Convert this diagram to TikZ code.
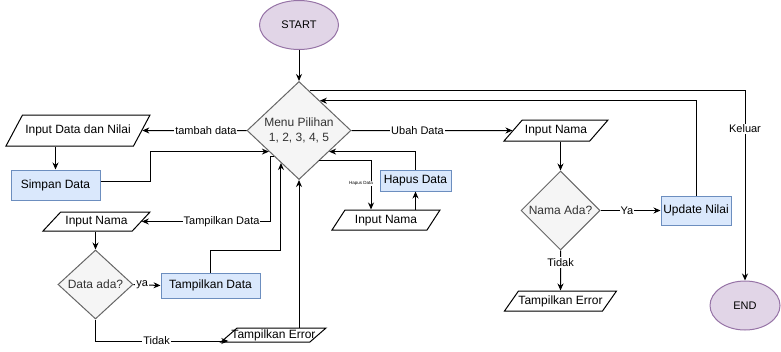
\documentclass[tikz,border=0pt]{standalone}
\usepackage{fontspec}
\setmainfont{Liberation Sans}
\usetikzlibrary{shapes.geometric,arrows.meta}
\definecolor{lilac}{HTML}{E1D5E7}
\definecolor{lilacline}{HTML}{9673A6}
\definecolor{paleblue}{HTML}{DAE8FC}
\definecolor{blueline}{HTML}{6C8EBF}
\definecolor{palegray}{HTML}{F5F5F5}
\definecolor{grayline}{HTML}{666666}
\definecolor{graytext}{HTML}{333333}
\begin{document}
\begin{tikzpicture}[x=1pt,y=-1pt,line width=1pt,>={Stealth[length=7pt,width=6pt]},
	font=\fontsize{12}{14}\selectfont,
	term/.style={ellipse, draw=lilacline, fill=lilac, inner sep=0pt, font=\fontsize{11}{13}\selectfont},
	proc/.style={rectangle, draw=blueline, fill=paleblue, inner sep=0pt},
	choice/.style={diamond, draw=grayline, fill=palegray, text=graytext, inner sep=0pt, align=center},
	io/.style={trapezium, trapezium stretches body, trapezium left angle=52, trapezium right angle=128,
		draw, fill=white, inner xsep=0pt, text height=8.5pt, text depth=2.5pt},
	lbl/.style={fill=white, inner sep=1pt, font=\fontsize{11}{13}\selectfont}]
\useasboundingbox (0,0) rectangle (781,351);
% debut et menu
\node[term, minimum width=79pt, minimum height=49pt] (start) at (299,25) {START};
\node[choice, minimum width=104pt, minimum height=98pt, font=\fontsize{12}{15.5}\selectfont] (menu) at (299,130.5) {Menu Pilihan\\1, 2, 3, 4, 5};
% tambah data
\node[io, minimum width=144pt, inner ysep=10pt, trapezium left angle=62, trapezium right angle=118] (inData) at (78,130.5) {Input Data dan Nilai};
\node[proc, minimum width=89pt, minimum height=30pt] (simpan) at (55.5,185) {Simpan Data};
% tampilkan data
\node[io, minimum width=107pt, inner ysep=4pt, trapezium left angle=47, trapezium right angle=133] (inNamaL) at (96.5,221.5) {Input Nama};
\node[choice, minimum width=75pt, minimum height=69pt] (adaL) at (95.5,284.5) {Data ada?};
\node[proc, minimum width=99pt, minimum height=25pt] (tampil) at (210.5,285.5) {Tampilkan Data};
\node[io, minimum width=105pt, inner ysep=1.5pt, inner xsep=-6pt, trapezium left angle=41, trapezium right angle=139] (errL) at (273.5,335) {Tampilkan Error};
% hapus data
\node[io, minimum width=108pt, inner ysep=4.5pt, trapezium left angle=57, trapezium right angle=123] (inNamaM) at (386,220) {Input Nama};
\node[proc, minimum width=71pt, minimum height=21pt] (hapus) at (415.5,180.5) {Hapus Data};
% ubah data
\node[io, minimum width=104pt, inner ysep=5pt, trapezium left angle=49, trapezium right angle=131] (inNamaR) at (556,130.5) {Input Nama};
\node[choice, minimum width=79pt, minimum height=79pt] (adaR) at (560.5,210.5) {Nama Ada?};
\node[proc, minimum width=70pt, minimum height=29pt] (update) at (696,210.5) {Update Nilai};
\node[io, minimum width=111pt, inner ysep=4.5pt, trapezium left angle=55, trapezium right angle=125] (errR) at (560.5,301) {Tampilkan Error};
% fin
\node[term, minimum width=70pt, minimum height=49pt] (end) at (745,305.5) {END};

% les fleches
\draw[->] (start.south) -- (menu.north);
\draw[->] (menu.75) -| node[lbl, pos=0.6]{Keluar} (end.north);
\draw[->] (update.north) |- (menu.55);
\draw[->] (menu.west) -- node[lbl, pos=0.39]{tambah data} (inData.east);
\draw[->] (simpan.north |- inData.south) -- (simpan.north);
\draw[->] ([yshift=4pt]simpan.east) -- ++(50,0) |- (menu.215);
\draw[->] (menu.227) -- ++(-4,0) |- node[lbl, pos=0.69]{Tampilkan Data} (inNamaL.east);
\draw[->] (adaL.north |- inNamaL.south) -- (adaL.north);
\draw[->] (adaL.east) -- node[lbl, pos=0.32]{ya} (tampil.west);
\draw[->] (adaL.south) |- node[lbl, pos=0.73]{Tidak} ([yshift=-6pt]errL.west);
\draw[->] (tampil.north) -- ++(0,-22) -| (menu.241);
\draw[->] (menu.south |- errL.north) -- (menu.south);
\draw[->] (menu.304) -| node[fill=white, inner sep=0.5pt, font=\fontsize{4.5}{5}\selectfont, pos=0.73, xshift=-10pt]{Hapus Data} ([xshift=-15pt]inNamaM.north);
\draw[->] (hapus.south |- inNamaM.north) -- (hapus.south);
\draw[->] (hapus.north) |- (menu.325);
\draw[->] (menu.east) -- node[lbl, pos=0.41]{Ubah Data} (inNamaR.west);
\draw[->] (adaR.north |- inNamaR.south) -- (adaR.north);
\draw[->] (adaR.east) -- node[lbl, pos=0.44]{Ya} (update.west);
\draw[->] (adaR.south) -- node[lbl, pos=0.3]{Tidak} (errR.north);
\end{tikzpicture}
\end{document}
